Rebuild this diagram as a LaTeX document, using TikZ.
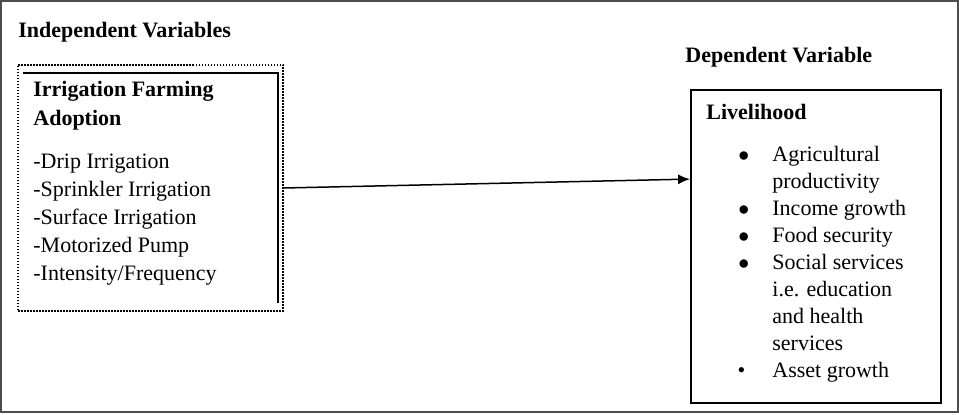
\documentclass[tikz,border=0pt]{standalone}
\usepackage{fontspec}
\setmainfont{Liberation Serif}
\usepackage{tikz}
\usetikzlibrary{shapes,arrows,arrows.meta}
\tikzstyle{framebox} = [draw=black!70, line width=1pt]
\tikzstyle{indepbox} = [draw=black, line width=0.75pt, dash pattern=on 0.75pt off 0.75pt, rectangle, minimum width=132.5pt, minimum height=123pt, inner sep=0pt]
\tikzstyle{depbox} = [draw=black, line width=0.9pt, rectangle, minimum width=125pt, minimum height=156.5pt, inner sep=0pt]
\tikzstyle{heading} = [anchor=base west, inner sep=0pt, font=\fontsize{11}{13}\selectfont\bfseries]
\tikzstyle{boxtext} = [anchor=base west, inner sep=0pt]

\begin{document}
\begin{tikzpicture}[x=0.5pt,y=-0.5pt]
\useasboundingbox (0,0) rectangle (959,415);
\draw[framebox] (1,1) rectangle (957.5,412.5);

\node[heading] (indeptitle) at (18,38) {Independent Variables};
\node[heading] (deptitle) at (685,63) {Dependent Variable};

\node[indepbox] (indep) at (150.5,188) {};
\draw[line width=0.6pt] (23,73) -- (278,73) -- (278,303);   %bordo interno
\node[boxtext] (adoption) at (33,97) {%
    \begin{minipage}[t]{120pt}\fontsize{11}{14.1}\selectfont\raggedright
        \textbf{Irrigation Farming}\\
        \textbf{Adoption}\par\vspace{7.4pt}
        -Drip Irrigation\\
        -Sprinkler Irrigation\\
        -Surface Irrigation\\
        -Motorized Pump\\
        -Intensity/Frequency
    \end{minipage}
};

\node[depbox] (dep) at (816,246.5) {};
\node[boxtext] (livelihood) at (706,120) {%
    \begin{minipage}[t]{120pt}\fontsize{11}{13.45}\selectfont\raggedright
        \textbf{Livelihood}
        \begin{list}{$\bullet$}{\setlength{\leftmargin}{33pt}\setlength{\labelwidth}{21.5pt}\setlength{\labelsep}{11.5pt}%
            \setlength{\topsep}{7.5pt}\setlength{\partopsep}{0pt}\setlength{\itemsep}{0pt}\setlength{\parsep}{0pt}}
            \item Agricultural\newline productivity
            \item Income growth
            \item Food security
            \item Social services\newline i.e. education\newline and health\newline services
            \item[\textbullet\hspace{2pt}] Asset growth
        \end{list}
    \end{minipage}
};

\draw[-{Latex[length=6pt,width=5pt]}, line width=0.75pt] (indep.east) -- ([yshift=-45pt]dep.north west);
\end{tikzpicture}
\end{document}
